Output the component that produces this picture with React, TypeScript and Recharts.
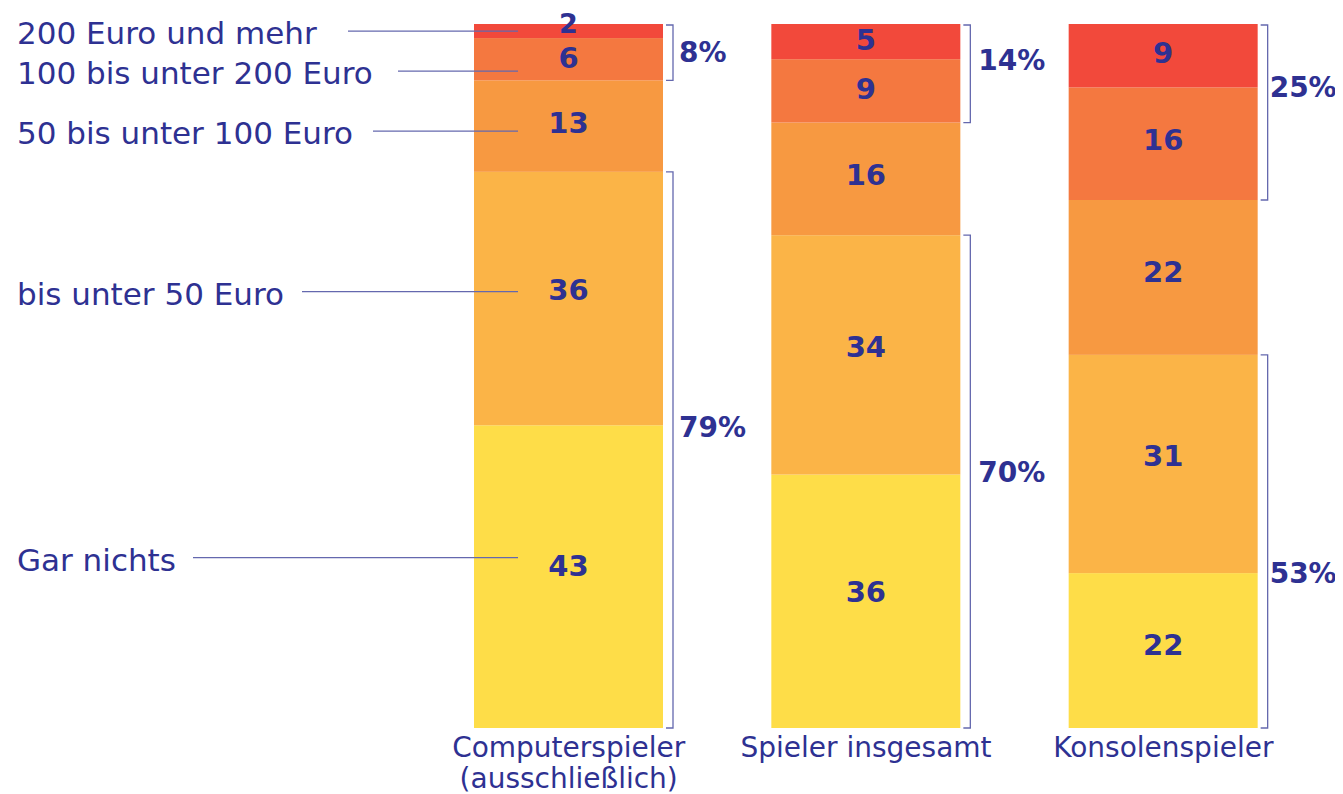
import { BarChart, Bar, XAxis, YAxis } from "recharts";

// categories (x axis)
const categories = ["Computerspieler (ausschließlich)", "Spieler insgesamt", "Konsolenspieler"];
const tickLines = [["Computerspieler", "(ausschließlich)"], ["Spieler insgesamt"], ["Konsolenspieler"]];

// series values, bottom to top (percent)
const garNichts = [43, 36, 22];
const bis50 = [36, 34, 31];
const bis100 = [13, 16, 22];
const bis200 = [6, 9, 16];
const ab200 = [2, 5, 9];

// summed shares shown next to the brackets
const topShare = [8, 14, 25];
const bottomShare = [79, 70, 53];

const seriesNames = [
  "Gar nichts",
  "bis unter 50 Euro",
  "50 bis unter 100 Euro",
  "100 bis unter 200 Euro",
  "200 Euro und mehr",
];
const seriesKeys = ["gar", "b50", "b100", "b200", "a200"];
const seriesValues = [garNichts, bis50, bis100, bis200, ab200];
const colors = ["#FEDD48", "#FBB447", "#F79941", "#F47840", "#F2493B"];

// layout tweaks for the annotations
const legendNudge = [-19, -7, 5, 12, 0];
const leaderStart = [185, 294, 365, 390, 340];
const topNudge = [0, -13, -25];
const bottomNudge = [-22, -9, 32];
const pctDx = [6, 8, 2];

const TEXT = "#2E3192";
const LINE = "#6468AE";
const FONT = "'DejaVu Sans', sans-serif";

const data = categories.map((name, i) => ({
  name,
  gar: garNichts[i],
  b50: bis50[i],
  b100: bis100[i],
  b200: bis200[i],
  a200: ab200[i],
}));

const bracket = (x: number, top: number, bottom: number, edge: number) => (
  <path
    d={`M${edge},${top} H${x} V${bottom} H${edge}`}
    fill="none"
    stroke={LINE}
    strokeWidth={1.3}
  />
);

const pctText = (x: number, y: number, label: string) => (
  <text
    x={x}
    y={y}
    dominantBaseline="central"
    fill={TEXT}
    fontFamily={FONT}
    fontWeight="bold"
    fontSize={28}
  >
    {label}
  </text>
);

const makeShape = (s: number) => (props: any) => {
  const { x, y, width, height, index } = props;
  const v = seriesValues[s][index];
  const unit = height / v;
  const cx = x + width / 2;
  let ly = y + height / 2 - height * 0.035;
  if (height < 20) ly = y - 1;
  const bx = x + width + 10;
  return (
    <g>
      <rect x={x} y={y} width={width} height={height} fill={colors[s]} />
      <text
        x={cx}
        y={ly}
        textAnchor="middle"
        dominantBaseline="central"
        fill={TEXT}
        fontFamily={FONT}
        fontWeight="bold"
        fontSize={height < 20 ? 27 : 29}
      >
        {v}
      </text>
      {index === 0 && (
        <g>
          <line
            x1={leaderStart[s]}
            x2={x + 44}
            y1={y + height / 2 + legendNudge[s]}
            y2={y + height / 2 + legendNudge[s]}
            stroke={LINE}
            strokeWidth={1.2}
          />
          <text
            x={9}
            y={y + height / 2 + legendNudge[s] + 2}
            dominantBaseline="central"
            fill={TEXT}
            fontFamily={FONT}
            fontSize={31}
          >
            {seriesNames[s]}
          </text>
        </g>
      )}
      {s === 0 && (() => {
        const top = y - bis50[index] * unit;
        const bottom = y + height;
        return (
          <g>
            {bracket(bx, top, bottom, x + width + 3)}
            {pctText(bx + pctDx[index], (top + bottom) / 2 + bottomNudge[index], `${bottomShare[index]}%`)}
          </g>
        );
      })()}
      {s === 4 && (() => {
        const top = y + 1;
        const bottom = y + height + bis200[index] * unit;
        return (
          <g>
            {bracket(bx, top, bottom, x + width + 3)}
            {pctText(bx + pctDx[index], (top + bottom) / 2 + topNudge[index], `${topShare[index]}%`)}
          </g>
        );
      })()}
    </g>
  );
};

const renderTick = (p: any) => {
  const lines = tickLines[p.index] || [p.payload.value];
  return (
    <text
      x={p.x}
      y={p.y}
      textAnchor="middle"
      fill={TEXT}
      fontFamily={FONT}
      fontSize={28}
    >
      {lines.map((l, i) => (
        <tspan key={i} x={p.x} dy={i === 0 ? 21 : 31}>
          {l}
        </tspan>
      ))}
    </text>
  );
};

export default function App() {
  return (
    <BarChart
      width={1335}
      height={786}
      data={data}
      margin={{ top: 16, right: 31, bottom: 36, left: 412 }}
      style={{ overflow: "visible" }}
    >
      <XAxis
        dataKey="name"
        height={30}
        axisLine={false}
        tickLine={false}
        interval={0}
        tick={renderTick}
      />
      <YAxis hide domain={[0, 100]} />
      {seriesKeys.map((k, s) => (
        <Bar
          key={k}
          dataKey={k}
          stackId="a"
          barSize={189}
          shape={makeShape(s)}
          isAnimationActive={false}
        />
      ))}
    </BarChart>
  );
}
